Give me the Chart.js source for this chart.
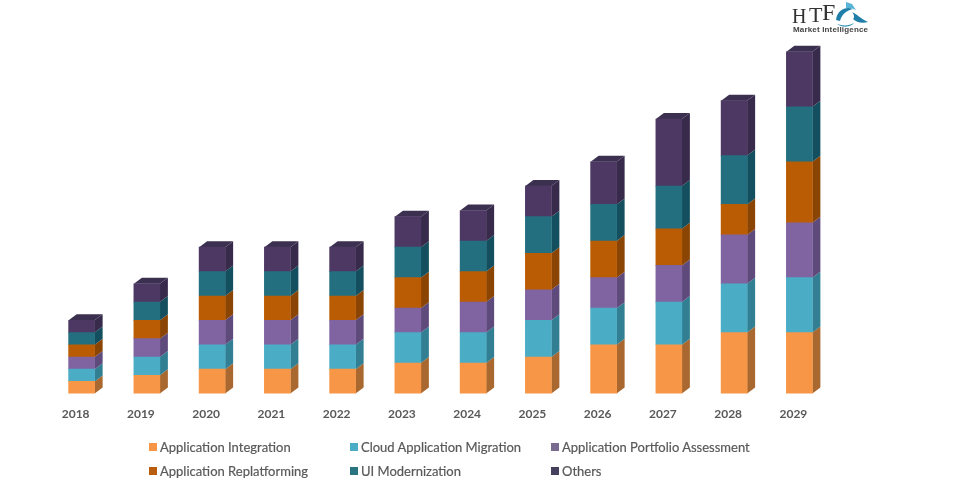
<!DOCTYPE html>
<html><head><meta charset="utf-8">
<style>
html,body{margin:0;padding:0;background:#fff;width:970px;height:480px;overflow:hidden}
#wrap{position:relative;width:962px;height:480px;filter:blur(0.4px)}
canvas{display:block}
#legend{position:absolute;left:0;top:0;font:13px Lato,sans-serif;color:#595959;-webkit-text-stroke:0.2px #595959}
.item{position:absolute;white-space:nowrap;line-height:14px}
.item i{position:absolute;left:-11px;top:3px;width:8px;height:8px}
#logo{position:absolute;left:790px;top:0}
</style></head><body>
<div id="wrap"><canvas id="c" width="962" height="480"></canvas><div id="legend"></div>
<svg id="logo" width="84" height="36" viewBox="0 0 84 36">
<text x="2" y="23" font-family="Liberation Serif" font-size="20" fill="#333">H</text>
<text x="19" y="22" font-family="Liberation Serif" font-size="22" fill="#333">T</text>
<text x="32" y="20" font-family="Liberation Serif" font-size="24" fill="#333">F</text>
<path d="M46 20C47 10 56 6 63 9C58 10 52 13 50 21Z" fill="#1f7fa8"/>
<path d="M56 2l6 2 4 6-5-2-5 0z" fill="#5ab4d6"/>
<path d="M62 12c5 2 9 7 16 10c-6 2-12 0-15-3c2-1 1-5-1-7z" fill="#1f7fa8"/>
<path d="M47 24c6 2 12 2 17-1c-2 3-10 6-17 1z" fill="#2b8fb8"/>
<text x="3" y="32" font-family="Liberation Sans" font-size="8" font-weight="bold" fill="#444" textLength="75">Market Intelligence</text>
</svg></div>
<script src="https://cdn.jsdelivr.net/npm/chart.js@4/dist/chart.umd.min.js"></script>
<script>
const years=['2018','2019','2020','2021','2022','2023','2024','2025','2026','2027','2028','2029'];
const seriesNames=['Application Integration','Cloud Application Migration','Application Portfolio Assessment','Application Replatforming','UI Modernization','Others'];
const applicationIntegration=[2,3,4,4,4,5,5,6,8,8,10,10];
const cloudApplicationMigration=[2,3,4,4,4,5,5,6,6,7,8,9];
const applicationPortfolioAssessment=[2,3,4,4,4,4,5,5,5,6,8,9];
const applicationReplatforming=[2,3,4,4,4,5,5,6,6,6,5,10];
const uiModernization=[2,3,4,4,4,5,5,6,6,7,8,9];
const others=[2,3,4,4,4,5,5,5,7,11,9,9];
const values=[applicationIntegration,cloudApplicationMigration,applicationPortfolioAssessment,applicationReplatforming,uiModernization,others];
const frontColors=['#F79646','#4BACC6','#8064A2','#BA5C04','#236F80','#4D3863'];
const sideColors=['#A8682F','#327F93','#5F4A7C','#8A4403','#134F5E','#372A4A'];
const legendColors=['#F79646','#4BACC6','#7A6A92','#B85C0E','#2A7480','#45405E'];
const topColor='#3C3050';
const depth={dx:8,dy:6};

const box3d={id:'box3d',
 beforeDatasetsDraw(chart){
  const ctx=chart.ctx,n=chart.data.datasets.length;
  ctx.save();
  for(let d=0;d<n;d++){
   chart.getDatasetMeta(d).data.forEach(b=>{
    const r=b.x+b.width/2;
    ctx.fillStyle=sideColors[d];
    ctx.beginPath();ctx.moveTo(r,b.base);ctx.lineTo(r+depth.dx,b.base-depth.dy);
    ctx.lineTo(r+depth.dx,b.y-depth.dy);ctx.lineTo(r,b.y);ctx.closePath();ctx.fill();
    if(d===n-1){
     const l=b.x-b.width/2;
     ctx.fillStyle=topColor;
     ctx.beginPath();ctx.moveTo(l,b.y);ctx.lineTo(l+depth.dx,b.y-depth.dy);
     ctx.lineTo(r+depth.dx,b.y-depth.dy);ctx.lineTo(r,b.y);ctx.closePath();ctx.fill();
    }
   });
  }
  ctx.restore();
 }};

new Chart(document.getElementById('c'),{
 type:'bar',
 data:{labels:years,datasets:seriesNames.map((s,i)=>({label:s,data:values[i],backgroundColor:frontColors[i],borderWidth:0,barThickness:26}))},
 plugins:[box3d],
 options:{responsive:false,animation:false,
  layout:{padding:{left:49,right:130,top:0,bottom:54}},
  plugins:{legend:{display:false},tooltip:{enabled:false}},
  scales:{
   x:{stacked:true,grid:{display:false},border:{display:false},
      ticks:{color:'#595959',font:{family:'Lato',size:12,weight:'bold'},labelOffset:-6,padding:5,maxRotation:0}},
   y:{display:false,stacked:true,min:0,max:64.5}
  }}
});

const legendPos=[[160,440],[361,440],[562,440],[160,464],[361,464],[562,464]];
const lg=document.getElementById('legend');
seriesNames.forEach((s,i)=>{
 const e=document.createElement('div');e.className='item';
 e.style.left=legendPos[i][0]+'px';e.style.top=legendPos[i][1]+'px';
 const sw=document.createElement('i');sw.style.background=legendColors[i];
 e.appendChild(sw);e.appendChild(document.createTextNode(s));lg.appendChild(e);
});
</script></body></html>
